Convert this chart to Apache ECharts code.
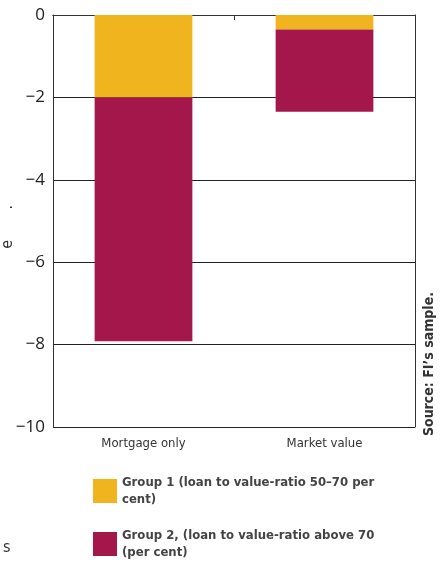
<!DOCTYPE html>
<html>
<head>
<meta charset="utf-8">
<script src="https://cdn.jsdelivr.net/npm/echarts@6/dist/echarts.min.js"></script>
<style>
  html, body { margin: 0; padding: 0; background: #fff; }
  #main { width: 446px; height: 567px; }
</style>
</head>
<body>
<div id="main"></div>
<script>
var categories = ['Mortgage only', 'Market value'];
var group1 = [-2.0, -0.35];
var group2 = [-5.92, -2.0];
var seriesNames = [
  'Group 1 (loan to value-ratio 50\u201370 per\ncent)',
  'Group 2, (loan to value-ratio above 70\n(per cent)'
];
var colors = ['#f0b41e', '#a3174b'];

var myChart = echarts.init(document.getElementById('main'));
var font = '"DejaVu Sans Condensed", "Liberation Sans Narrow", sans-serif';

var option = {
  animation: false,
  grid: { left: 53, right: 31, top: 15, bottom: 140 },
  xAxis: [{
    type: 'category',
    data: categories,
    position: 'bottom',
    axisLine: { lineStyle: { color: '#333', width: 1 } },
    axisTick: { show: false },
    axisLabel: { color: '#333', fontSize: 13, fontFamily: font, margin: 10 }
  }, {
    type: 'category',
    data: categories,
    position: 'top',
    axisLine: { lineStyle: { color: '#333', width: 1 } },
    axisTick: { show: true, inside: true, length: 5, lineStyle: { color: '#333' } },
    axisLabel: { show: false }
  }],
  yAxis: [{
    type: 'value',
    min: -10, max: 0, interval: 2,
    axisLine: { show: true, lineStyle: { color: '#333' } },
    axisTick: { show: false },
    splitLine: { lineStyle: { color: '#222', width: 1 } },
    axisLabel: {
      color: '#222', fontSize: 17, fontFamily: '"Open Sans", sans-serif', margin: 8,
      formatter: function (v) { return v < 0 ? '\u2212' + Math.abs(v) : String(v); }
    }
  }, {
    type: 'value', position: 'right',
    min: -10, max: 0, interval: 2,
    axisLine: { show: true, lineStyle: { color: '#333' } },
    axisTick: { show: false }, axisLabel: { show: false }, splitLine: { show: false }
  }],
  legend: {
    orient: 'vertical',
    left: 93, top: 474, height: 93,
    padding: 0,
    itemWidth: 24, itemHeight: 24, itemGap: 19,
    icon: 'rect',
    selectedMode: false,
    textStyle: { color: '#444', fontSize: 13, fontWeight: 'bold', fontFamily: font, lineHeight: 17 },
    data: seriesNames
  },
  series: [{
    name: seriesNames[0], type: 'bar', stack: 's', barWidth: '54%',
    itemStyle: { color: colors[0] }, data: group1
  }, {
    name: seriesNames[1], type: 'bar', stack: 's', barWidth: '54%',
    itemStyle: { color: colors[1] }, data: group2
  }],
  graphic: [{
    type: 'text', left: 422, top: 292, rotation: Math.PI / 2,
    style: { text: 'Source: FI\u2019s sample.', fill: '#333', fontSize: 14, fontWeight: 'bold', fontFamily: font }
  }, {
    type: 'text', left: 0, top: 205, rotation: Math.PI / 2,
    style: { text: '.', fill: '#333', fontSize: 16, fontFamily: font }
  }, {
    type: 'text', left: 0, top: 240, rotation: Math.PI / 2,
    style: { text: 'e', fill: '#333', fontSize: 16, fontFamily: font }
  }, {
    type: 'text', left: 3, top: 540,
    style: { text: 's', fill: '#333', fontSize: 16, fontFamily: font }
  }]
};
myChart.setOption(option);
</script>
</body>
</html>
